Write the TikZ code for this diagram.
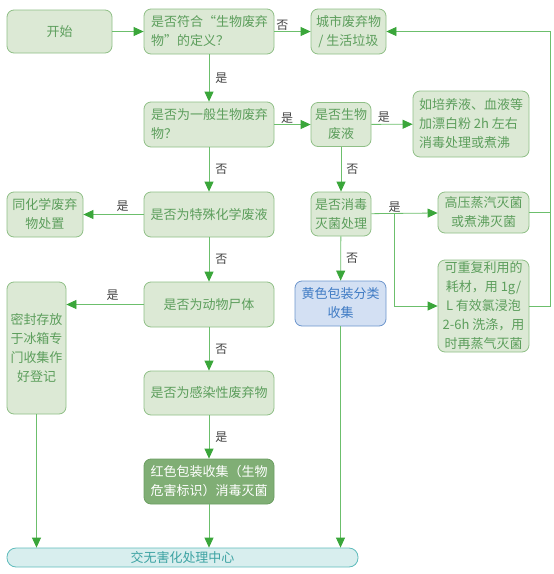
\documentclass[tikz,border=0pt]{standalone}
\usepackage{fontspec}
\setmainfont{Noto Sans CJK SC}
\usetikzlibrary{arrows.meta}
\definecolor{lineg}{HTML}{6CBF6C}
\definecolor{tipg}{HTML}{3AA63A}
\definecolor{boxfill}{HTML}{DCE9D5}
\definecolor{boxdraw}{HTML}{8FBF86}
\definecolor{boxtext}{HTML}{5C9E5C}
\definecolor{redfill}{HTML}{80AE75}
\definecolor{reddraw}{HTML}{6C9F62}
\definecolor{yelfill}{HTML}{D3E0F3}
\definecolor{yeldraw}{HTML}{6C95CC}
\definecolor{yeltext}{HTML}{3F7BC4}
\definecolor{barfill}{HTML}{D8EEEE}
\definecolor{bardraw}{HTML}{5FBCBC}
\definecolor{bartext}{HTML}{3DA3A3}
\definecolor{labc}{HTML}{444444}
\tikzset{
  box/.style={draw=boxdraw, fill=boxfill, text=boxtext, rounded corners=7pt, line width=0.8pt,
    inner sep=0pt, align=center, font=\fontsize{13}{19}\selectfont},
  redbox/.style={box, draw=reddraw, fill=redfill, text=white},
  yelbox/.style={box, draw=yeldraw, fill=yelfill, text=yeltext},
  barbox/.style={box, draw=bardraw, fill=barfill, text=bartext, rounded corners=9pt},
  conn/.style={draw=lineg, line width=0.8pt, -{Triangle[length=10pt,width=9pt,color=tipg]}},
  plain/.style={draw=lineg, line width=0.8pt},
  lab/.style={text=labc, font=\fontsize{12}{14}\selectfont, inner sep=0pt},
}
\newcommand{\bx}[5]{\node[#1, minimum width=#4pt, minimum height=#5pt] (#2) at #3}
\begin{document}
\begin{tikzpicture}[x=1pt,y=-1pt]
\useasboundingbox (0,0) rectangle (554,574);
\bx{box}{start}{(59.5,31.5)}{105}{43} {开始};
\bx{box}{q1}{(209,31.5)}{130}{45} {\parbox{116pt}{\raggedright 是否符合“生物废弃\\物”的定义？}};
\bx{box}{city}{(348.5,31.5)}{75}{45} {城市废弃物\\/ 生活垃圾};
\bx{box}{q2}{(209,124.5)}{130}{45} {\parbox{116pt}{\raggedright 是否为一般生物废弃\\物？}};
\bx{box}{liquid}{(341,124.5)}{60}{44} {是否生物\\废液};
\bx{box}{bleach}{(471,124)}{116}{66} {\parbox{104pt}{\raggedright 如培养液、血液等\\加漂白粉 2h 左右\\消毒处理或煮沸}};
\bx{box}{chem}{(209,214.5)}{130}{45} {是否为特殊化学废液};
\bx{box}{chemdisp}{(45,214.5)}{76}{45} {同化学废弃\\物处置};
\bx{box}{disinf}{(341,214)}{60}{44} {是否消毒\\灭菌处理};
\bx{box}{autoclave}{(483.5,212.5)}{91}{41} {高压蒸汽灭菌\\或煮沸灭菌};
\bx{box}{reuse}{(483.5,306)}{91}{92} {可重复利用的\\耗材，用 1g/\\L 有效氯浸泡\\2-6h 洗涤，用\\时再蒸气灭菌};
\bx{yelbox}{yellow}{(340.5,303.5)}{91}{45} {黄色包装分类\\收集};
\bx{box}{animal}{(209,304.5)}{130}{45} {是否为动物尸体};
\bx{box}{fridge}{(36.5,348)}{59}{132} {密封存放\\于冰箱专\\门收集作\\好登记};
\bx{box}{infect}{(209,393)}{130}{44} {是否为感染性废弃物};
\bx{redbox}{red}{(209,481.5)}{130}{45} {红色包装收集（生物\\危害标识）消毒灭菌};
\bx{barbox}{bar}{(182.5,557.5)}{351}{19} {交无害化处理中心};
% connectors
\draw[conn] (start) -- (q1);
\draw[conn] (q1) -- node[lab, above, pos=0.22, yshift=1pt] {否} (city);
\draw[conn] (q1) -- node[lab, right, xshift=6pt] {是} (q2);
\draw[conn] (q2) -- node[lab, above, pos=0.35, yshift=1pt] {是} (liquid);
\draw[conn] (liquid) -- node[lab, above, pos=0.3, yshift=1pt] {是} (bleach);
\draw[conn] (liquid) -- node[lab, right, xshift=5pt] {否} (disinf);
\draw[conn] (q2) -- node[lab, right, xshift=6pt] {否} (chem);
\draw[conn] (chem) -- node[lab, above, pos=0.35, yshift=3pt] {是} (chemdisp);
\draw[conn] (chem) -- node[lab, right, xshift=6pt] {否} (animal);
\draw[conn] (animal.west) -- node[lab, above, pos=0.4, yshift=4pt] {是} (animal.west -| fridge.east);
\draw[conn] (animal) -- node[lab, right, xshift=6pt] {否} (infect);
\draw[conn] (infect) -- node[lab, right, xshift=6pt] {是} (red);
\draw[conn] (red) -- (red |- bar.north);
\draw[conn] (fridge) -- (fridge |- bar.north);
\draw[conn] (yellow) -- (yellow |- bar.north);
\draw[conn] (disinf) -- node[lab, above, pos=0.35, yshift=1pt] {是} (autoclave);
\draw[conn] (disinf) -- node[lab, right, xshift=5pt] {否} (yellow);
\coordinate (br) at (394,214);
\draw[conn] (br) |- (reuse.west);
\coordinate (rt) at (550,212.5);
\draw[plain] (autoclave.east) -- (rt);
\draw[conn] (rt) |- (city.east);
\draw[plain] (reuse.east) -| (rt);
\end{tikzpicture}
\end{document}
